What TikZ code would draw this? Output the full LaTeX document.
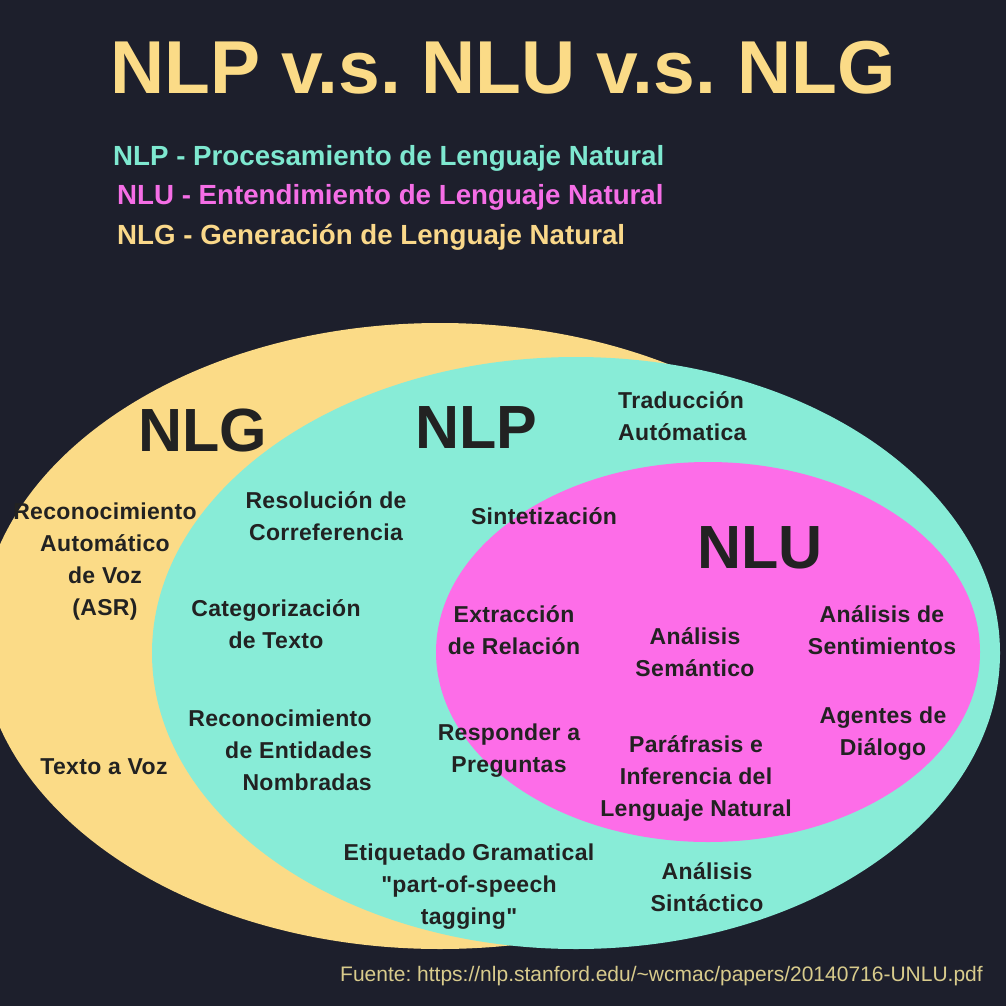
\documentclass[tikz,border=0pt]{standalone}
\usepackage{fontspec}
\setmainfont{Liberation Sans}
\newfontfamily\bodyfont{Liberation Sans}[LetterSpace=1.5]
\newfontfamily\titlefont{Liberation Sans}
\frenchspacing
\definecolor{bg}{HTML}{1D1F2C}
\definecolor{nlgY}{HTML}{FBDB87}
\definecolor{nlpT}{HTML}{88ECD7}
\definecolor{nluM}{HTML}{FD6DE8}
\definecolor{ink}{HTML}{222222}
\definecolor{legT}{HTML}{7EE8D0}
\definecolor{legM}{HTML}{F56EE6}
\definecolor{legY}{HTML}{FAD88A}
\definecolor{src}{HTML}{D8CB8C}
\tikzset{
  item/.style={inner sep=0pt, align=center, text=ink, font=\bodyfont\bfseries\fontsize{23}{32}\selectfont},
  biglabel/.style={inner sep=0pt, text=ink, font=\titlefont\bfseries\fontsize{61}{61}\selectfont},
  legend/.style={inner sep=0pt, anchor=west, font=\titlefont\bfseries\fontsize{27.7}{30}\selectfont}
}
\begin{document}
\begin{tikzpicture}[x=1pt,y=-1pt]
\useasboundingbox (0,0) rectangle (1006,1006);
\clip (0,0) rectangle (1006,1006);
\fill[bg] (0,0) rectangle (1006,1006);
% ellipses
\fill[nlgY] (440,636) ellipse [x radius=460, y radius=313];
\fill[nlpT] (576,653) ellipse [x radius=424, y radius=296];
\fill[nluM] (708,652) ellipse [x radius=272, y radius=190];
% title and legend
\node[inner sep=0pt, text=nlgY, font=\titlefont\bfseries\fontsize{75}{75}\selectfont] (title) at (503,68) {NLP v.s. NLU v.s. NLG};
\node[legend, text=legT] (legnlp) at (113,158) {NLP - Procesamiento de Lenguaje Natural};
\node[legend, text=legM] (legnlu) at (117,197) {NLU - Entendimiento de Lenguaje Natural};
\node[legend, text=legY] (legnlg) at (117,237) {NLG - Generación de Lenguaje Natural};
% big labels
\node[biglabel] (nlg) at (203,430) {NLG};
\node[biglabel] (nlp) at (476,428) {NLP};
\node[biglabel] (nlu) at (760,548) {NLU};
% NLG items
\node[item] (asr) at (105,562) {Reconocimiento\\Automático\\de Voz\\(ASR)};
\node[item] (tts) at (104,767) {Texto a Voz};
% NLP items
\node[item] (coref) at (326,516) {Resolución de\\Correferencia};
\node[item] (cat) at (276,624) {Categorización\\de Texto};
\node[item, align=right, anchor=east] (ner) at (372,750) {Reconocimiento\\de Entidades\\Nombradas};
\node[item, align=left, anchor=west] (mt) at (618,416) {Traducción\\Autómatica};
\node[item] (sint) at (544,516) {Sintetización};
\node[item] (qa) at (509,751) {Responder a\\Preguntas};
\node[item] (pos) at (469,887) {Etiquetado Gramatical\\"part-of-speech\\tagging"};
\node[item] (parse) at (707,887) {Análisis\\Sintáctico};
% NLU items
\node[item] (rel) at (514,630) {Extracción\\de Relación};
\node[item] (sem) at (695,652) {Análisis\\Semántico};
\node[item] (sent) at (882,630) {Análisis de\\Sentimientos};
\node[item] (para) at (696,778) {Paráfrasis e\\Inferencia del\\Lenguaje Natural};
\node[item] (dial) at (883,734) {Agentes de\\Diálogo};
% source
\node[inner sep=0pt, anchor=east, text=src, font=\titlefont\fontsize{21}{24}\selectfont] (fuente) at (983,976) {Fuente: https://nlp.stanford.edu/\textasciitilde wcmac/papers/20140716-UNLU.pdf};
\end{tikzpicture}
\end{document}
